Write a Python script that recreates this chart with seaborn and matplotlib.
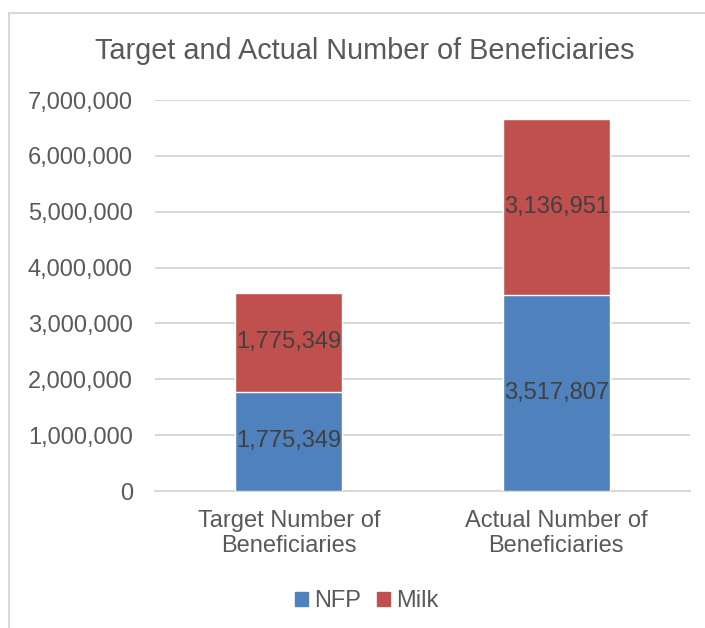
import matplotlib
matplotlib.use("Agg")
import matplotlib.pyplot as plt
import matplotlib.patches as mpatches
import seaborn as sns
import pandas as pd

categories = ["Target Number of\nBeneficiaries", "Actual Number of\nBeneficiaries"]
nfp = [1775349, 3517807]
milk = [1775349, 3136951]
series_names = ["NFP", "Milk"]
yticks = [0, 1000000, 2000000, 3000000, 4000000, 5000000, 6000000, 7000000]

sns.set_theme(style="white")
plt.rcParams['font.family'] = ['Liberation Sans', 'DejaVu Sans']

blue = "#4F81BD"
red = "#C0504D"
txt = "#595959"
grid = "#D9D9D9"

df = pd.DataFrame({"cat": categories, "NFP": nfp, "Milk": milk})
df["Total"] = df["NFP"] + df["Milk"]

fig = plt.figure(figsize=(7.05, 6.28), dpi=100)
ax = fig.add_axes([155/705, 1-491/628, (690-155)/705, (491-100)/628])

sns.barplot(data=df, x="cat", y="Total", color=red, width=0.4, saturation=1, ax=ax, zorder=3)
sns.barplot(data=df, x="cat", y="NFP", color=blue, width=0.4, saturation=1, ax=ax, zorder=3)

c_total = ax.containers[0]
c_nfp = ax.containers[1]
for rect, m, n in zip(c_total, milk, nfp):
    ax.text(rect.get_x() + rect.get_width()/2, n + m/2, f"{m:,}", ha="center", va="center",
            fontsize=17, color="#404040", zorder=5)
for rect, n in zip(c_nfp, nfp):
    ax.text(rect.get_x() + rect.get_width()/2, n/2, f"{n:,}", ha="center", va="center",
            fontsize=17, color="#404040", zorder=5)

ax.set_ylim(0, 7000000)
ax.set_xlim(-0.5, 1.5)
ax.set_yticks(yticks)
ax.set_yticklabels([f"{v:,}" for v in yticks])
ax.yaxis.grid(True, color=grid, linewidth=1.5, zorder=0)
ax.set_axisbelow(True)
for s in ["top", "right", "left"]:
    ax.spines[s].set_visible(False)
ax.spines["bottom"].set_color(grid)
ax.spines["bottom"].set_linewidth(1.5)
ax.tick_params(axis="both", length=0, labelsize=17, colors=txt)
ax.tick_params(axis="y", pad=16)
ax.tick_params(axis="x", pad=14)
ax.set_xlabel("")
ax.set_ylabel("")
for lab in ax.get_xticklabels():
    lab.set_linespacing(1.15)

fig.text(0.518, 1-51/628, "Target and Actual Number of Beneficiaries", ha="center", va="center",
         fontsize=20.8, color=txt)

handles = [mpatches.Patch(color=blue, label=series_names[0]),
           mpatches.Patch(color=red, label=series_names[1])]
leg = fig.legend(handles=handles, loc="center", bbox_to_anchor=(0.52, 1-601/628), ncol=2,
                 frameon=False, fontsize=17, handlelength=0.55, handleheight=0.55,
                 handletextpad=0.25, columnspacing=0.7, labelcolor=txt)

border = mpatches.Rectangle((9/705, -0.05), 1.2, 1-13/628+0.05, transform=fig.transFigure,
                            fill=False, edgecolor=grid, linewidth=1.5)
fig.patches.append(border)

fig.savefig("out.png", dpi=100)
